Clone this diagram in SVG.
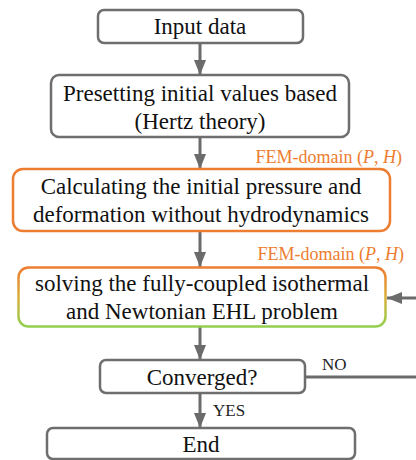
<svg xmlns="http://www.w3.org/2000/svg" width="416" height="460" viewBox="0 0 416 460">
<defs>
<linearGradient id="g4" gradientUnits="userSpaceOnUse" x1="0" y1="268" x2="0" y2="327">
<stop offset="0" stop-color="#ED7D31"/>
<stop offset="0.5" stop-color="#D9B03A"/>
<stop offset="1" stop-color="#92D050"/>
</linearGradient>
<marker id="ah" markerWidth="15" markerHeight="12" refX="15" refY="6" viewBox="0 0 15 12" markerUnits="userSpaceOnUse" orient="auto">
<path d="M0,0 L15,6 L0,12 Z" fill="#6B6B6B"/>
</marker>
</defs>
<style>
.box{fill:#fff;stroke:#6E6E6E;stroke-width:2.5}
.obox{fill:#fff;stroke:#ED7D31;stroke-width:2.5}
.t{font-size:23px;fill:#111;text-anchor:middle}
.lbl{font-size:18px;fill:#ED7D31;text-anchor:end}
.yn{font-size:17px;fill:#222}
.c{fill:none;stroke:#6B6B6B;stroke-width:3}
</style>
<g font-family="'Liberation Serif', 'DejaVu Serif', serif">
<g id="connectors">
<line class="c" x1="200" y1="43" x2="200" y2="75" marker-end="url(#ah)"/>
<line class="c" x1="200" y1="137" x2="200" y2="169" marker-end="url(#ah)"/>
<line class="c" x1="200" y1="231" x2="200" y2="267" marker-end="url(#ah)"/>
<line class="c" x1="200" y1="327" x2="200" y2="360" marker-end="url(#ah)"/>
<line class="c" x1="200" y1="393" x2="200" y2="428" marker-end="url(#ah)"/>
<path class="c" d="M305,377 H425 V298 H387" marker-end="url(#ah)"/>
<text class="yn" x="322" y="370">NO</text>
<text class="yn" x="213" y="416">YES</text>
</g>
<g id="input">
<rect class="box" x="98" y="10" width="205" height="33" rx="6"/>
<text class="t" x="200" y="34">Input data</text>
</g>
<g id="preset">
<rect class="box" x="51" y="75" width="298" height="62" rx="8"/>
<text class="t" x="200" y="101">Presetting initial values based</text>
<text class="t" x="200" y="129">(Hertz theory)</text>
</g>
<g id="initial">
<text class="lbl" x="402" y="163">FEM-domain (<tspan font-style="italic">P</tspan>, <tspan font-style="italic">H</tspan>)</text>
<rect class="obox" x="13" y="169" width="377" height="62" rx="10"/>
<text class="t" x="201" y="194">Calculating the initial pressure and</text>
<text class="t" x="201" y="222">deformation without hydrodynamics</text>
</g>
<g id="solve">
<text class="lbl" x="404" y="260">FEM-domain (<tspan font-style="italic">P</tspan>, <tspan font-style="italic">H</tspan>)</text>
<rect x="18.5" y="267.5" width="367" height="59" rx="10" fill="#fff" stroke="url(#g4)" stroke-width="2.5"/>
<text class="t" x="202" y="291">solving the fully-coupled isothermal</text>
<text class="t" x="202" y="319">and Newtonian EHL problem</text>
</g>
<g id="converged">
<rect class="box" x="100" y="360" width="205" height="33" rx="6"/>
<text class="t" x="202" y="385">Converged?</text>
</g>
<g id="end">
<rect class="box" x="47" y="428" width="308" height="31" rx="6"/>
<text class="t" x="201" y="452">End</text>
</g>
</g>
</svg>
